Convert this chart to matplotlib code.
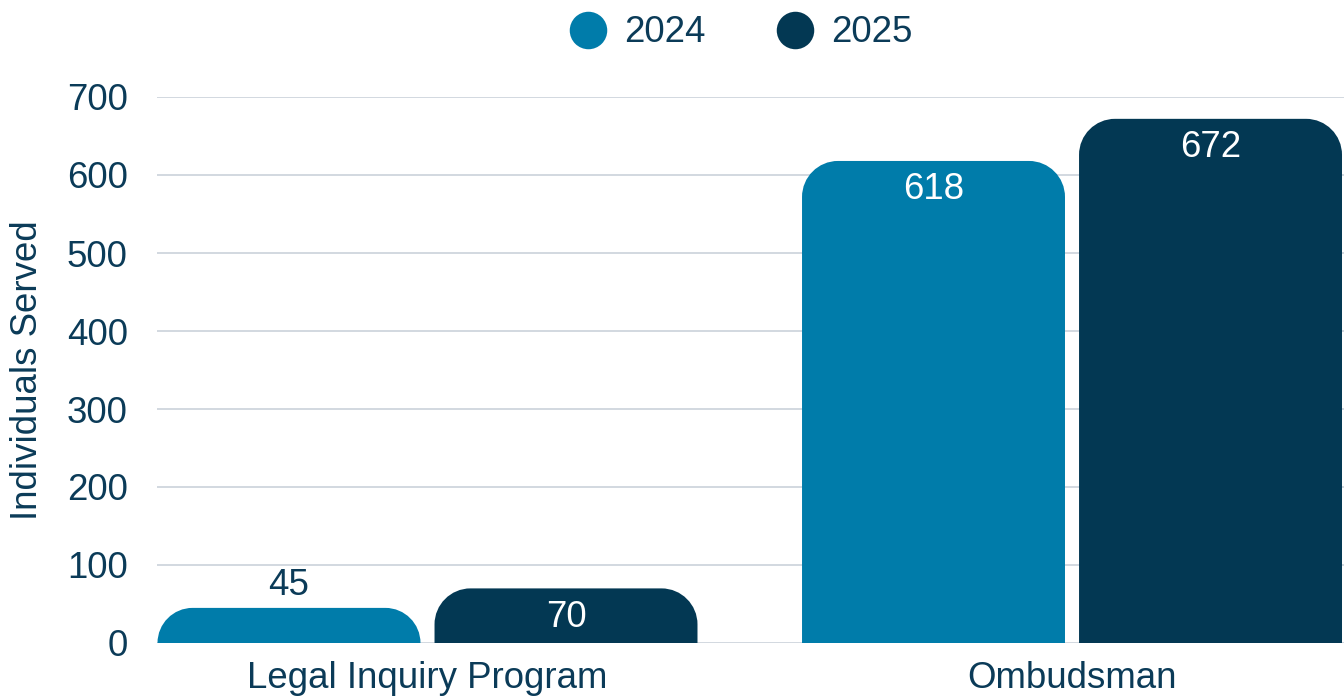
import matplotlib
matplotlib.use("Agg")
import matplotlib.pyplot as plt
import numpy as np
from matplotlib.path import Path
from matplotlib.patches import PathPatch
from matplotlib.lines import Line2D

categories = ["Legal Inquiry Program", "Ombudsman"]
years = ["2024", "2025"]
values_2024 = [45, 618]
values_2025 = [70, 672]
y_ticks = [0, 100, 200, 300, 400, 500, 600, 700]

colors = {"2024": "#007CAA", "2025": "#033853"}
text_color = "#0B3B58"
grid_color = "#CFD6DD"

plt.rcParams['font.family'] = ['Liberation Sans', 'DejaVu Sans']
FS = 26.4

W, H = 1344, 698
fig = plt.figure(figsize=(W / 100, H / 100), dpi=100)
ax_left, ax_right, ax_top, ax_bot = 157, 1344, 97, 643
ax = fig.add_axes([ax_left / W, 1 - ax_bot / H, (ax_right - ax_left) / W, (ax_bot - ax_top) / H])

x = np.arange(len(categories))
bw = 0.408
off = 0.2149
series = [("2024", values_2024, -off), ("2025", values_2025, off)]

xlim = (-0.4197, 1.422)
ylim = (0, 700)
ax.set_xlim(*xlim)
ax.set_ylim(*ylim)

ax_w_px = ax_right - ax_left
ax_h_px = ax_bot - ax_top
px_x = ax_w_px / (xlim[1] - xlim[0])
px_y = ax_h_px / (ylim[1] - ylim[0])

R = 36  # corner radius in px
K = 0.5523

def rounded_path(x0, y0, w, h):
    rpx = min(R, h * px_y, w * px_x / 2)
    rx = rpx / px_x
    ry = rpx / px_y
    x1 = x0 + w
    y1 = y0 + h
    verts = [
        (x0, y0),
        (x0, y1 - ry),
        (x0, y1 - ry + K * ry), (x0 + rx - K * rx, y1), (x0 + rx, y1),
        (x1 - rx, y1),
        (x1 - rx + K * rx, y1), (x1, y1 - ry + K * ry), (x1, y1 - ry),
        (x1, y0),
        (x0, y0),
    ]
    codes = [Path.MOVETO, Path.LINETO,
             Path.CURVE4, Path.CURVE4, Path.CURVE4,
             Path.LINETO,
             Path.CURVE4, Path.CURVE4, Path.CURVE4,
             Path.LINETO, Path.CLOSEPOLY]
    return Path(verts, codes)

for name, vals, o in series:
    bars = ax.bar(x + o, vals, bw, color=colors[name], zorder=3)
    for rect, v in zip(bars, vals):
        rect.set_visible(False)
        x0, y0, w, h = rect.get_x(), rect.get_y(), rect.get_width(), rect.get_height()
        ax.add_patch(PathPatch(rounded_path(x0, y0, w, h), facecolor=colors[name],
                               edgecolor='none', zorder=3))
        cx = x0 + w / 2
        h_px = h * px_y
        if h_px > 45:
            ax.text(cx, y0 + h - 29 / px_y, str(v), ha='center', va='center',
                    color='white', fontsize=FS, zorder=4)
        else:
            ax.text(cx, y0 + h + 22 / px_y, str(v), ha='center', va='center',
                    color=text_color, fontsize=FS, zorder=4)

ax.set_yticks(y_ticks)
ax.set_yticklabels([str(t) for t in y_ticks])
ax.set_xticks(x)
ax.set_xticklabels(categories)
ax.yaxis.grid(True, color=grid_color, linewidth=1.3, zorder=0)
ax.set_axisbelow(True)
for s in ax.spines.values():
    s.set_visible(False)
ax.tick_params(axis='y', length=0, pad=21, labelsize=FS, labelcolor=text_color)
ax.tick_params(axis='x', length=0, pad=13, labelsize=FS, labelcolor=text_color)

fig.text(28 / W, 1 - 370 / H, "Individuals Served", rotation=90, ha='center', va='center',
         fontsize=FS, color=text_color)

handles = [Line2D([], [], marker='o', linestyle='none', markersize=27,
                  markerfacecolor=colors[y], markeredgecolor='none') for y in years]
fig.legend(handles, years, loc='center', bbox_to_anchor=(741 / W, 1 - 33 / H), ncol=2,
           frameon=False, fontsize=FS, labelcolor=text_color, handletextpad=0.48,
           columnspacing=1.93, handlelength=1.0, borderpad=0, borderaxespad=0)

fig.savefig("out.png", dpi=100)
